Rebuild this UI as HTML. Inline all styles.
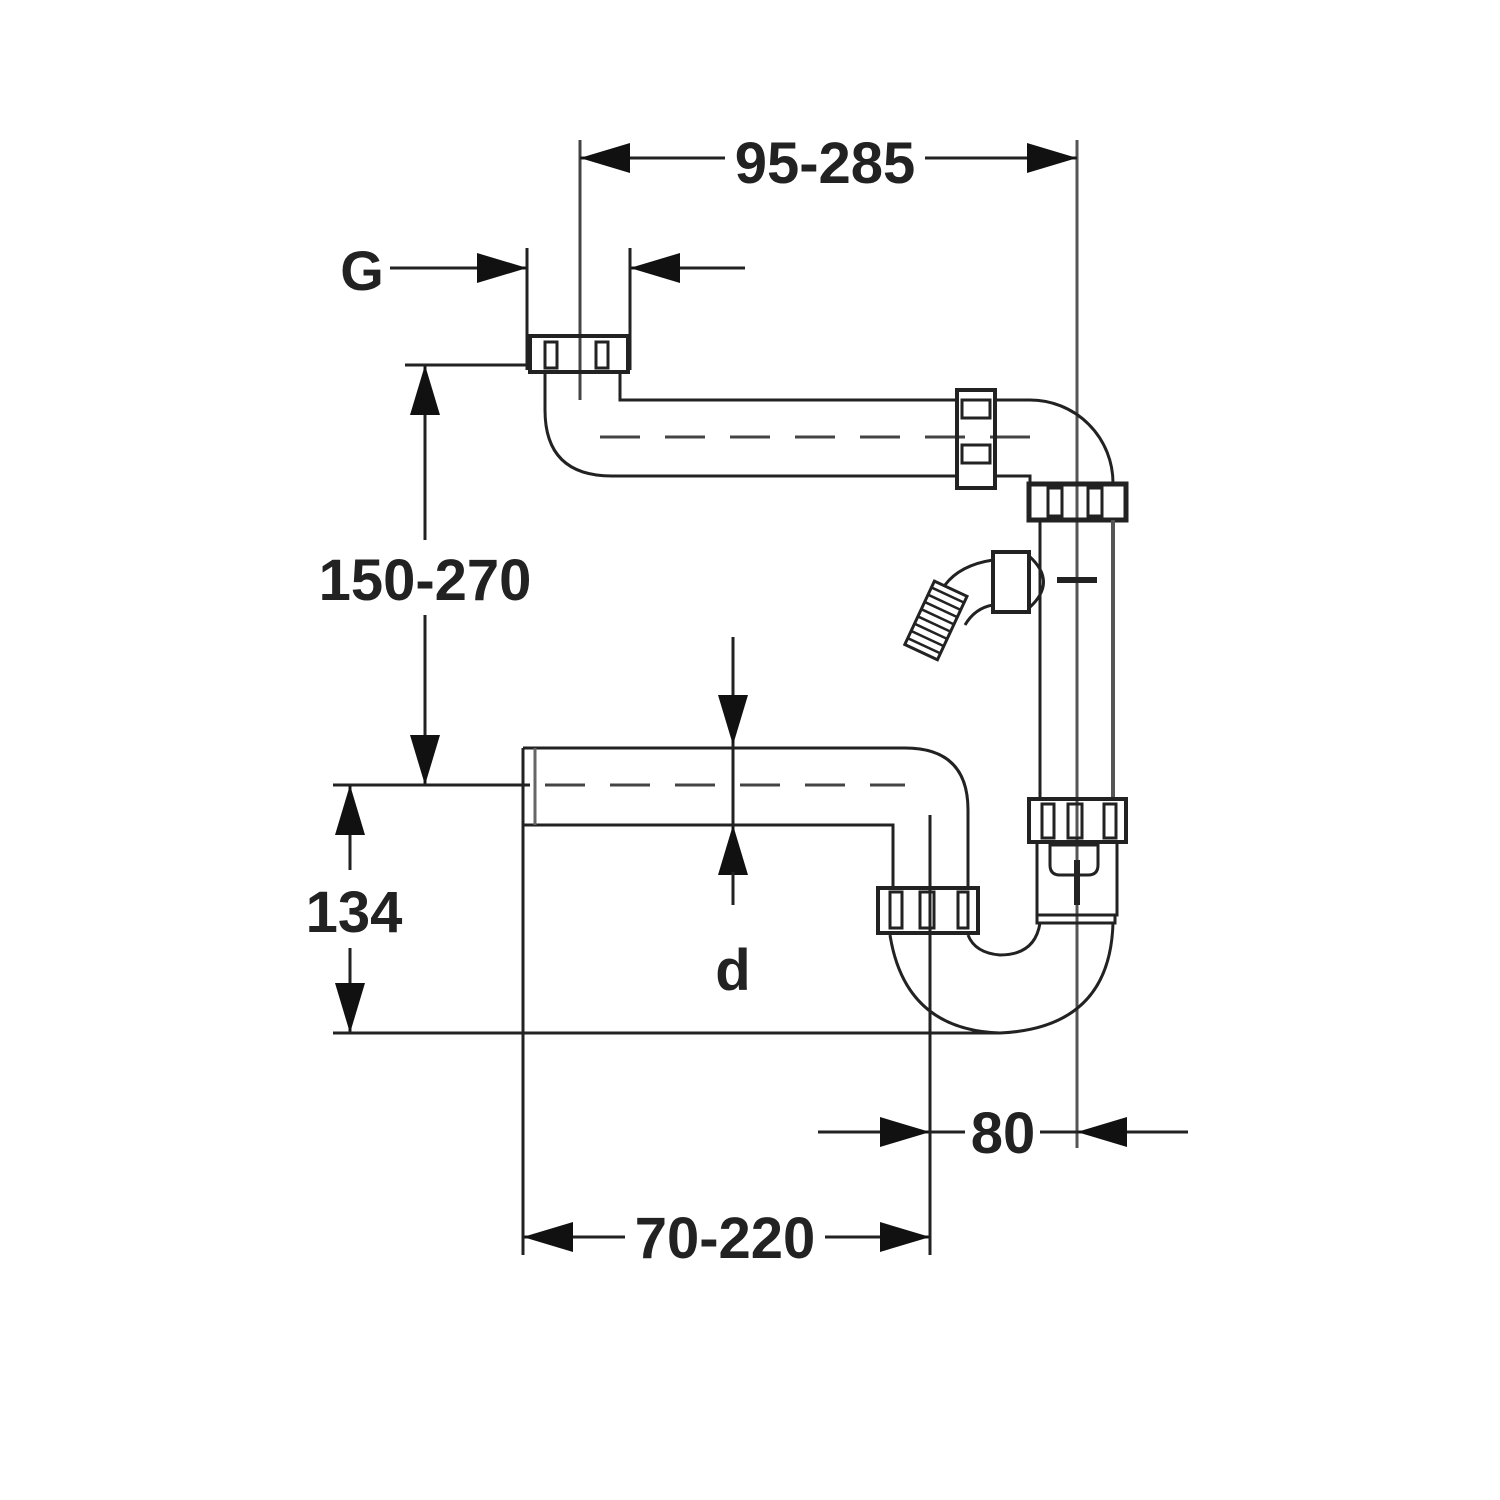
<!DOCTYPE html>
<html><head><meta charset="utf-8"><style>html,body{margin:0;padding:0;background:#fff}svg{display:block}text{font-family:"Liberation Sans",Arial,sans-serif;font-weight:bold;fill:#222}</style></head>
<body>
<svg width="1500" height="1500" viewBox="0 0 1500 1500" xmlns="http://www.w3.org/2000/svg">
<defs>
<marker id="a" viewBox="0 0 10 6" refX="10" refY="3" markerWidth="50" markerHeight="30" markerUnits="userSpaceOnUse" orient="auto"><path d="M0,0 L10,3 L0,6 Z" fill="#111"/></marker>
</defs>
<g stroke="#222" stroke-width="3" fill="none">
<!-- dimension lines -->
<line x1="580" y1="140" x2="580" y2="400" stroke="#444"/>
<line x1="1077" y1="140" x2="1077" y2="1148" stroke="#555"/>
<line x1="630" y1="158" x2="725" y2="158"/><line x1="925" y1="158" x2="1027" y2="158"/>
<path d="M630,158 L580,158" marker-end="url(#a)"/><path d="M1027,158 L1077,158" marker-end="url(#a)"/>
<line x1="527" y1="248" x2="527" y2="370"/><line x1="630" y1="248" x2="630" y2="370"/>
<line x1="390" y1="268" x2="480" y2="268"/><path d="M480,268 L527,268" marker-end="url(#a)"/>
<line x1="680" y1="268" x2="745" y2="268"/><path d="M680,268 L630,268" marker-end="url(#a)"/>
<line x1="405" y1="365" x2="530" y2="365"/><line x1="333" y1="785" x2="530" y2="785"/>
<path d="M425,415 L425,365" marker-end="url(#a)"/><line x1="425" y1="415" x2="425" y2="540"/>
<line x1="425" y1="615" x2="425" y2="735"/><path d="M425,735 L425,785" marker-end="url(#a)"/>
<path d="M350,835 L350,785" marker-end="url(#a)"/><line x1="350" y1="835" x2="350" y2="870"/>
<line x1="350" y1="948" x2="350" y2="983"/><path d="M350,983 L350,1033" marker-end="url(#a)"/>
<line x1="333" y1="1033" x2="1000" y2="1033"/>
<line x1="733" y1="637" x2="733" y2="697"/><path d="M733,697 L733,745" marker-end="url(#a)"/>
<line x1="733" y1="745" x2="733" y2="825"/>
<path d="M733,872 L733,825" marker-end="url(#a)"/><line x1="733" y1="872" x2="733" y2="905"/>
<line x1="818" y1="1132" x2="880" y2="1132"/><path d="M880,1132 L930,1132" marker-end="url(#a)"/>
<line x1="930" y1="1132" x2="965" y2="1132"/><line x1="1040" y1="1132" x2="1077" y2="1132"/>
<line x1="1125" y1="1132" x2="1188" y2="1132"/><path d="M1125,1132 L1077,1132" marker-end="url(#a)"/>
<line x1="523" y1="748" x2="523" y2="1255"/><line x1="930" y1="815" x2="930" y2="1255"/>
<path d="M573,1237 L523,1237" marker-end="url(#a)"/><line x1="573" y1="1237" x2="625" y2="1237"/>
<line x1="825" y1="1237" x2="880" y2="1237"/><path d="M880,1237 L930,1237" marker-end="url(#a)"/>
<!-- upper pipe -->
<path d="M545,372 L545,410 Q545,476 612,476 L955,476"/>
<path d="M620,372 L620,400 L955,400"/>
<line x1="600" y1="437" x2="1045" y2="437" stroke-dasharray="40,25" stroke="#444"/>
<rect x="530" y="336" width="98" height="36" stroke-width="4"/>
<rect x="545" y="342" width="12" height="26"/><rect x="596" y="342" width="12" height="26"/>
<rect x="957" y="390" width="38" height="98" stroke-width="4"/>
<rect x="962" y="400" width="28" height="18"/><rect x="962" y="445" width="28" height="18"/>
<path d="M995,400 L1030,400 A83,83 0 0 1 1113,483" />
<path d="M995,476 L1030,476 L1030,485"/>
<rect x="1029" y="484" width="97" height="36" stroke-width="5"/>
<rect x="1048" y="488" width="14" height="28"/><rect x="1088" y="488" width="14" height="28"/>
<!-- vertical pipe -->
<line x1="1040" y1="520" x2="1040" y2="800"/><line x1="1113" y1="520" x2="1113" y2="800" stroke="#555" stroke-width="4"/>
<line x1="1077" y1="630" x2="1077" y2="790" stroke-dasharray="40,25" stroke="#555"/>
<line x1="1057" y1="580" x2="1097" y2="580" stroke-width="6"/>
<!-- side elbow -->
<rect x="993" y="552" width="36" height="60" stroke-width="4"/>
<path d="M1029,556 Q1058,582 1029,608"/>
<path d="M993,560 Q960,565 945,585 M993,605 Q975,608 965,625"/>
<g transform="rotate(25 935 620)"><rect x="918" y="585" width="36" height="70" stroke-width="3"/>
<path d="M918,592h36M918,600h36M918,608h36M918,616h36M918,624h36M918,632h36M918,640h36M918,648h36" stroke-width="2.5"/></g>
<!-- lower nut & body -->
<rect x="1029" y="799" width="97" height="43" stroke-width="4"/>
<rect x="1042" y="804" width="12" height="34"/><rect x="1068" y="804" width="14" height="34"/><rect x="1104" y="804" width="12" height="34"/>
<rect x="1037" y="842" width="80" height="73"/>
<path d="M1050,845 h48 v20 q0,10 -10,10 h-28 q-10,0 -10,-10 z"/>
<line x1="1077" y1="860" x2="1077" y2="905" stroke-width="6"/>
<rect x="1037" y="915" width="78" height="8"/>
<!-- U bend -->
<path d="M1113,923 Q1110,1028 1000,1033 Q905,1030 890,935"/>
<path d="M1040,923 Q1035,955 1000,955 Q975,953 968,935"/>
<rect x="878" y="888" width="100" height="45" stroke-width="4"/>
<rect x="890" y="892" width="12" height="36"/><rect x="920" y="892" width="14" height="36"/><rect x="958" y="892" width="10" height="36"/>
<!-- lower horizontal pipe -->
<path d="M893,888 L893,825 L523,825"/>
<path d="M968,888 L968,810 Q968,748 905,748 L523,748"/>
<line x1="535" y1="748" x2="535" y2="825" stroke="#666"/>
<line x1="545" y1="785" x2="905" y2="785" stroke-dasharray="40,25" stroke="#444"/>
</g>
<text x="825" y="183" font-size="58" text-anchor="middle">95-285</text>
<text x="362" y="290" font-size="56" text-anchor="middle">G</text>
<text x="425" y="600" font-size="58" text-anchor="middle">150-270</text>
<text x="354" y="932" font-size="58" text-anchor="middle">134</text>
<text x="733" y="990" font-size="58" text-anchor="middle">d</text>
<text x="1003" y="1153" font-size="58" text-anchor="middle">80</text>
<text x="725" y="1258" font-size="58" text-anchor="middle">70-220</text>
</svg>
</body></html>
